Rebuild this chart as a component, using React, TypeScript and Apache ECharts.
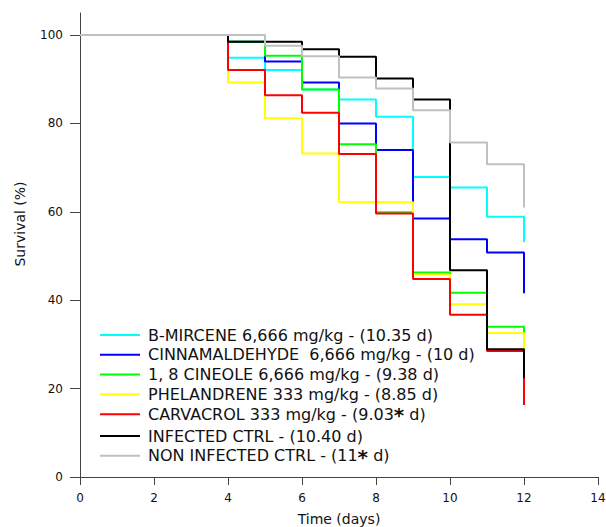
import React, { useEffect, useRef } from 'react';
import * as echarts from 'echarts';

const days = [0, 4, 5, 6, 7, 8, 9, 10, 11, 12];

const seriesNames = [
  'B-MIRCENE 6,666 mg/kg - (10.35 d)',
  'CINNAMALDEHYDE  6,666 mg/kg - (10 d)',
  '1, 8 CINEOLE 6,666 mg/kg - (9.38 d)',
  'PHELANDRENE 333 mg/kg - (8.85 d)',
  'CARVACROL 333 mg/kg - (9.03* d)',
  'INFECTED CTRL - (10.40 d)',
  'NON INFECTED CTRL - (11* d)',
];

const mircene = [100, 94.9, 92.1, 87.7, 85.4, 81.5, 67.9, 65.5, 58.9, 53.2];
const cinnamaldehyde = [100, 98.5, 94.0, 89.3, 80.0, 74.0, 58.5, 53.8, 50.8, 41.6];
const cineole = [100, 98.5, 95.3, 87.7, 75.3, 59.9, 46.3, 41.7, 34.0, 32.6];
const phelandrene = [100, 89.3, 81.2, 73.2, 62.2, 62.2, 45.8, 39.1, 32.6, 28.9];
const carvacrol = [100, 92.1, 86.4, 82.4, 73.1, 59.6, 44.8, 36.7, 28.5, 16.3];
const infected = [100, 98.5, 98.5, 96.8, 95.1, 90.2, 85.4, 46.8, 28.9, 22.4];
const nonInfected = [100, 100, 97.6, 95.2, 90.4, 87.9, 83.0, 75.7, 70.8, 61.0];

const seriesValues = [mircene, cinnamaldehyde, cineole, phelandrene, carvacrol, infected, nonInfected];
const seriesColors = ['#00ffff', '#0000ff', '#00ff00', '#ffff00', '#ff0000', '#000000', '#c0c0c0'];

const xTicks = [0, 2, 4, 6, 8, 10, 12, 14];
const yTicks = [0, 20, 40, 60, 80, 100];

const FONT = 'DejaVu Sans';

export default function App() {
  const ref = useRef<HTMLDivElement>(null);
  useEffect(() => {
    document.body.style.margin = '0';
    const chart = echarts.init(ref.current!, null, { renderer: 'svg' });
    chart.setOption({
      animation: false,
      backgroundColor: '#ffffff',
      grid: { left: 80, right: 8, top: 13, bottom: 50, containLabel: false, outerBoundsMode: 'none' },
      xAxis: {
        type: 'value',
        min: 0,
        max: 14,
        interval: 2,
        name: 'Time (days)',
        nameLocation: 'middle',
        nameGap: 35,
        nameTextStyle: { fontFamily: FONT, fontSize: 14, color: '#111' },
        axisLine: { show: true, onZero: false, lineStyle: { color: '#444', width: 1 } },
        axisTick: { show: true, inside: false, length: 8, lineStyle: { color: '#444' } },
        axisLabel: { fontFamily: FONT, fontSize: 12, color: '#111', margin: 15, customValues: xTicks },
        splitLine: { show: false },
      },
      yAxis: {
        type: 'value',
        min: 0,
        max: 105,
        interval: 20,
        axisLine: { show: true, onZero: false, lineStyle: { color: '#444', width: 1 } },
        axisTick: { show: true, inside: false, length: 10, lineStyle: { color: '#444' }, customValues: yTicks },
        axisLabel: { fontFamily: FONT, fontSize: 12, color: '#111', margin: 17, customValues: yTicks },
        splitLine: { show: false },
      },
      legend: {
        orient: 'vertical',
        left: 100,
        top: 326,
        padding: 0,
        itemGap: 1.8,
        itemWidth: 40,
        itemHeight: 2,
        icon: 'rect',
        data: seriesNames,
        textStyle: {
          fontFamily: FONT,
          fontSize: 16,
          color: '#111',
          lineHeight: 18,
          padding: [0, 0, 0, 3],
          rich: {
            t: { fontFamily: FONT, fontSize: 16, color: '#111', lineHeight: 18 },
            s: { fontFamily: FONT, fontSize: 20, fontWeight: 'bold', color: '#111', lineHeight: 18, verticalAlign: 'top' },
          },
        },
        formatter: (name: string) => {
          const parts = name.split('*');
          if (parts.length === 1) return '{t|' + name + '}';
          return '{t|' + parts[0] + '}{s|*}{t|' + parts[1] + '}';
        },
      },
      graphic: [
        {
          type: 'text',
          x: 20,
          y: 224,
          rotation: Math.PI / 2,
          style: {
            text: 'Survival (%)',
            fontFamily: FONT,
            fontSize: 14,
            fill: '#111',
            textAlign: 'center',
            textVerticalAlign: 'middle',
          },
        },
      ],
      series: seriesNames.map((name, i) => ({
        name,
        type: 'line',
        step: 'end',
        symbol: 'none',
        showSymbol: false,
        color: seriesColors[i],
        lineStyle: { color: seriesColors[i], width: 2 },
        data: days.map((d, j) => [d, seriesValues[i][j]]),
        z: 2 + i,
      })),
    });
    return () => chart.dispose();
  }, []);
  return <div ref={ref} style={{ width: 606, height: 527 }} />;
}
